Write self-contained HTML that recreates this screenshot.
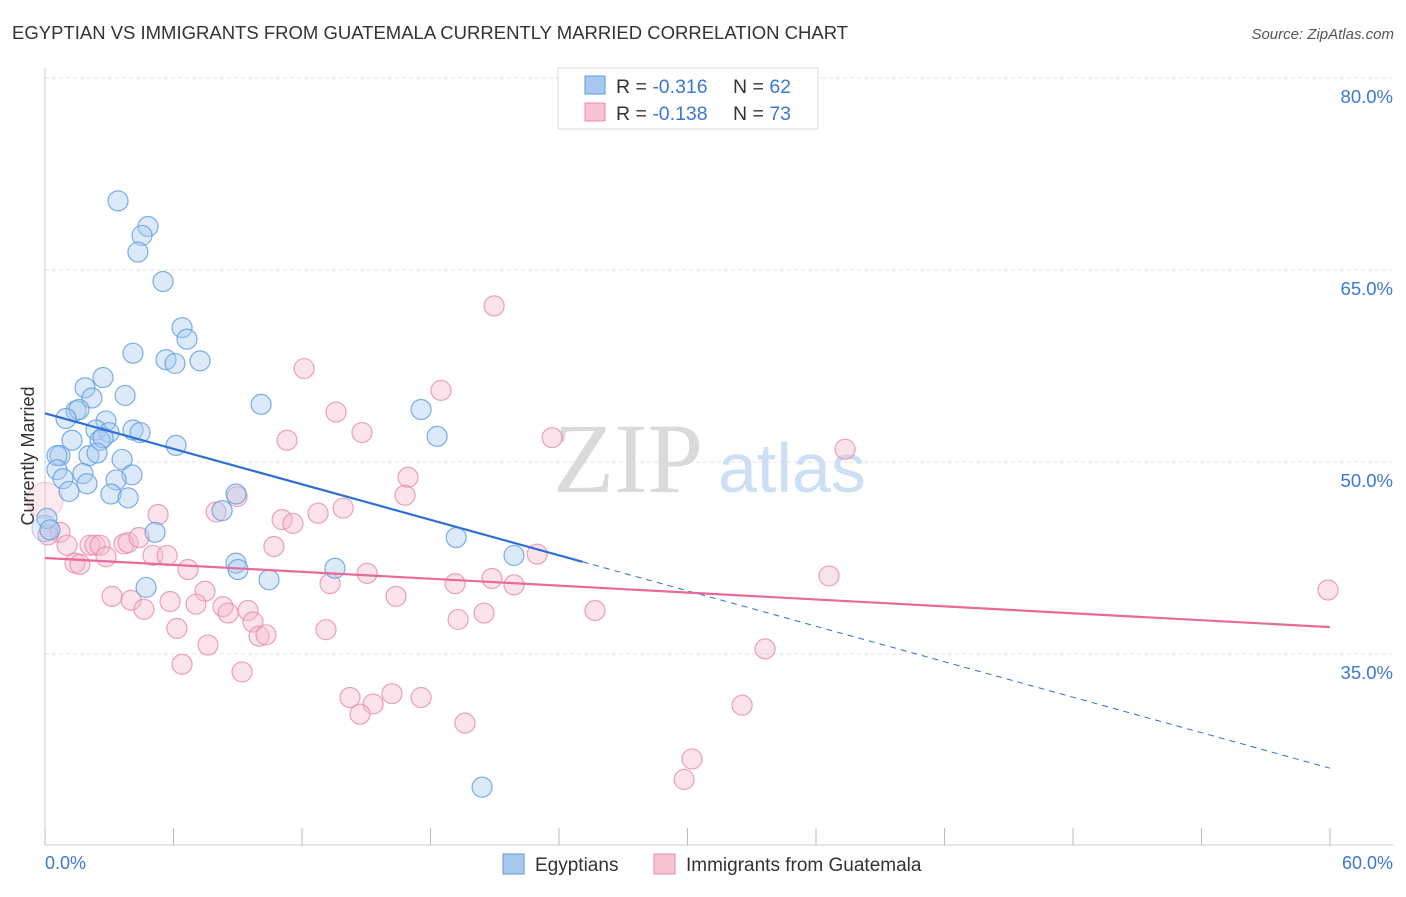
<!DOCTYPE html>
<html><head><meta charset="utf-8"><style>
body{margin:0;background:#fff;font-family:"Liberation Sans",sans-serif}
svg text{font-family:"Liberation Sans",sans-serif}
svg text.serif{font-family:"Liberation Serif",serif}
</style></head><body>
<svg id="chart" width="1406" height="892">
<text x="12" y="39" font-size="18.5" fill="#333">EGYPTIAN VS IMMIGRANTS FROM GUATEMALA CURRENTLY MARRIED CORRELATION CHART</text>
<text x="1394" y="39" font-size="15" fill="#555" font-style="italic" text-anchor="end">Source: ZipAtlas.com</text>
<g id="grid"></g>
<g>
<text class="serif" x="553" y="492" font-size="100" fill="#dadada">ZIP</text>
<text x="718" y="492" font-size="70" fill="#cddff4">atlas</text>
</g>
<line x1="45" y1="68" x2="45" y2="845" stroke="#ccc"/>
<line x1="45" y1="845" x2="1393" y2="845" stroke="#ccc"/>
<g id="xticks"></g>
<g id="pts"></g>
<g id="lines"></g>
<text x="34" y="456" font-size="18" fill="#333" text-anchor="middle" transform="rotate(-90 34 456)">Currently Married</text>
<text x="45" y="869" font-size="18" fill="#3b78d4">0.0%</text>
<text x="1393" y="869" font-size="18" fill="#3b78d4" text-anchor="end">60.0%</text>
<g>
<rect x="558" y="68" width="260" height="61" fill="#fff" stroke="#ddd"/>
<rect x="585" y="76" width="20" height="18" fill="#a8c8f0" stroke="#5b9be0"/>
<rect x="585" y="103" width="20" height="18" fill="#f8c4d4" stroke="#e88aa8"/>
<text x="616" y="93" font-size="19.5" fill="#333">R = <tspan fill="#3b78d4">-0.316</tspan></text>
<text x="733" y="93" font-size="19.5" fill="#333">N = <tspan fill="#3b78d4">62</tspan></text>
<text x="616" y="120" font-size="19.5" fill="#333">R = <tspan fill="#3b78d4">-0.138</tspan></text>
<text x="733" y="120" font-size="19.5" fill="#333">N = <tspan fill="#3b78d4">73</tspan></text>
</g>
<g>
<rect x="503" y="854" width="21" height="20" fill="#a8c8f0" stroke="#5b9be0"/>
<text x="535" y="871" font-size="19" fill="#333">Egyptians</text>
<rect x="654" y="854" width="21" height="20" fill="#f8c4d4" stroke="#e88aa8"/>
<text x="686" y="871" font-size="19" fill="#333">Immigrants from Guatemala</text>
</g>
</svg>
<script>
const yTicks=[80,65,50,35];
const xTickCount=10;
const blueX=[3.41,4.81,4.53,4.34,5.51,6.40,6.63,5.65,7.24,6.07,4.11,2.71,1.87,3.74,2.19,1.45,1.59,0.98,2.85,10.09,17.56,1.26,2.38,2.99,4.11,4.44,2.57,2.71,6.12,18.31,0.70,0.56,2.05,2.43,3.60,0.56,1.77,1.96,0.84,4.06,3.32,1.12,3.08,3.88,8.92,8.27,0.09,0,0.23,5.14,19.2,21.9,8.92,9.01,13.54,10.46,4.72,20.41];
const blueY=[70.4,68.4,67.7,66.4,64.1,60.5,59.6,58.0,57.9,57.7,58.5,56.6,55.8,55.2,55.0,54.0,54.1,53.4,53.2,54.5,54.1,51.7,52.5,52.3,52.5,52.3,51.7,51.9,51.3,52.0,50.5,50.5,50.5,50.7,50.2,49.4,49.1,48.3,48.7,49.0,48.6,47.7,47.5,47.2,47.5,46.2,45.6,44.8,44.7,44.5,44.1,42.7,42.1,41.6,41.7,40.8,40.2,24.6];
const pinkX=[20.97,12.10,18.49,13.59,14.80,11.30,23.68,37.36,16.95,16.81,8.97,13.92,7.99,5.28,11.07,11.58,12.75,0,0.70,0.14,1.03,2.10,2.33,2.57,3.69,3.88,4.39,2.85,5.04,5.70,1.40,1.63,6.68,10.69,15.04,13.31,19.15,20.87,21.9,22.98,36.61,59.91,3.13,7.47,4.02,5.84,7.05,8.31,9.48,4.62,8.55,9.71,16.39,25.68,19.29,20.5,6.16,13.12,9.99,10.32,7.61,33.62,6.40,9.20,14.24,16.20,15.32,17.56,14.71,32.55,19.61,30.21,29.84];
const pinkY=[62.2,57.3,55.6,53.9,52.3,51.7,51.9,51.0,48.8,47.4,47.3,46.4,46.1,45.9,45.5,45.2,46.0,47.0,44.5,44.3,43.5,43.5,43.5,43.5,43.6,43.7,44.1,42.6,42.7,42.7,42.1,42.0,41.6,43.4,41.3,40.5,40.5,40.9,40.4,42.8,41.1,40.0,39.5,39.9,39.2,39.1,38.9,38.7,38.4,38.5,38.2,37.5,39.5,38.4,37.7,38.2,37.0,36.9,36.4,36.5,35.7,35.4,34.2,33.6,31.6,31.9,31.1,31.6,30.3,31.0,29.6,26.8,25.2];
const blueTrend=[53.8,-0.462];
const pinkTrend=[42.5,-0.09];
const blueSolidEnd=25.1;
const NS="http://www.w3.org/2000/svg";
const X=v=>45+v/60*1285, Y=v=>462-(v-50)*12.8;
function mk(t,a,p){const e=document.createElementNS(NS,t);for(const k in a)e.setAttribute(k,a[k]);p.appendChild(e);return e;}
const grid=document.getElementById('grid');
yTicks.forEach(t=>{
  const l=mk('line',{x1:45,x2:1393,y1:Y(t),y2:Y(t),stroke:'#e2e2e2','stroke-dasharray':'4,3'},grid);
  
  
  const tx=mk('text',{x:1393,y:Y(t)+25,'font-size':18.5,fill:'#3b78d4','text-anchor':'end'},grid);
  tx.textContent=t.toFixed(1)+'%';
  
  
});
const xt=document.getElementById('xticks');
for(let i=0;i<=xTickCount;i++){const x=X(i*6);
  const l=mk('line',{x1:x,x2:x,y1:828,y2:845,stroke:'#bbb'},xt);
  
  }
const pts=document.getElementById('pts');
function plot(xs,ys,fill,stroke,name){xs.forEach((x,i)=>{
  const big=(x===0);
  const c=mk('circle',{cx:X(x),cy:Y(ys[i]),r:big?(name==='guatemala-point'?18:13):10,fill:fill,'fill-opacity':big?0.3:0.4,stroke:stroke,'stroke-width':1.2,'stroke-opacity':big?0.4:0.8},pts);
  
  });}
plot(pinkX,pinkY,'#f5b8cc','#e88aa8','guatemala-point');
plot(blueX,blueY,'#a8c8f0','#5b9be0','egyptian-point');
const ln=document.getElementById('lines');
const f=(t,x)=>t[0]+t[1]*x;
let a=mk('line',{x1:X(0),y1:Y(f(blueTrend,0)),x2:X(blueSolidEnd),y2:Y(f(blueTrend,blueSolidEnd)),stroke:'#2d6fd6','stroke-width':2.2},ln);


a=mk('line',{x1:X(blueSolidEnd),y1:Y(f(blueTrend,blueSolidEnd)),x2:X(60),y2:Y(f(blueTrend,60)),stroke:'#2d6fd6','stroke-width':1,'stroke-dasharray':'6,5'},ln);


a=mk('line',{x1:X(0),y1:Y(f(pinkTrend,0)),x2:X(60),y2:Y(f(pinkTrend,60)),stroke:'#e8699a','stroke-width':2.2},ln);


</script>
</body></html>
